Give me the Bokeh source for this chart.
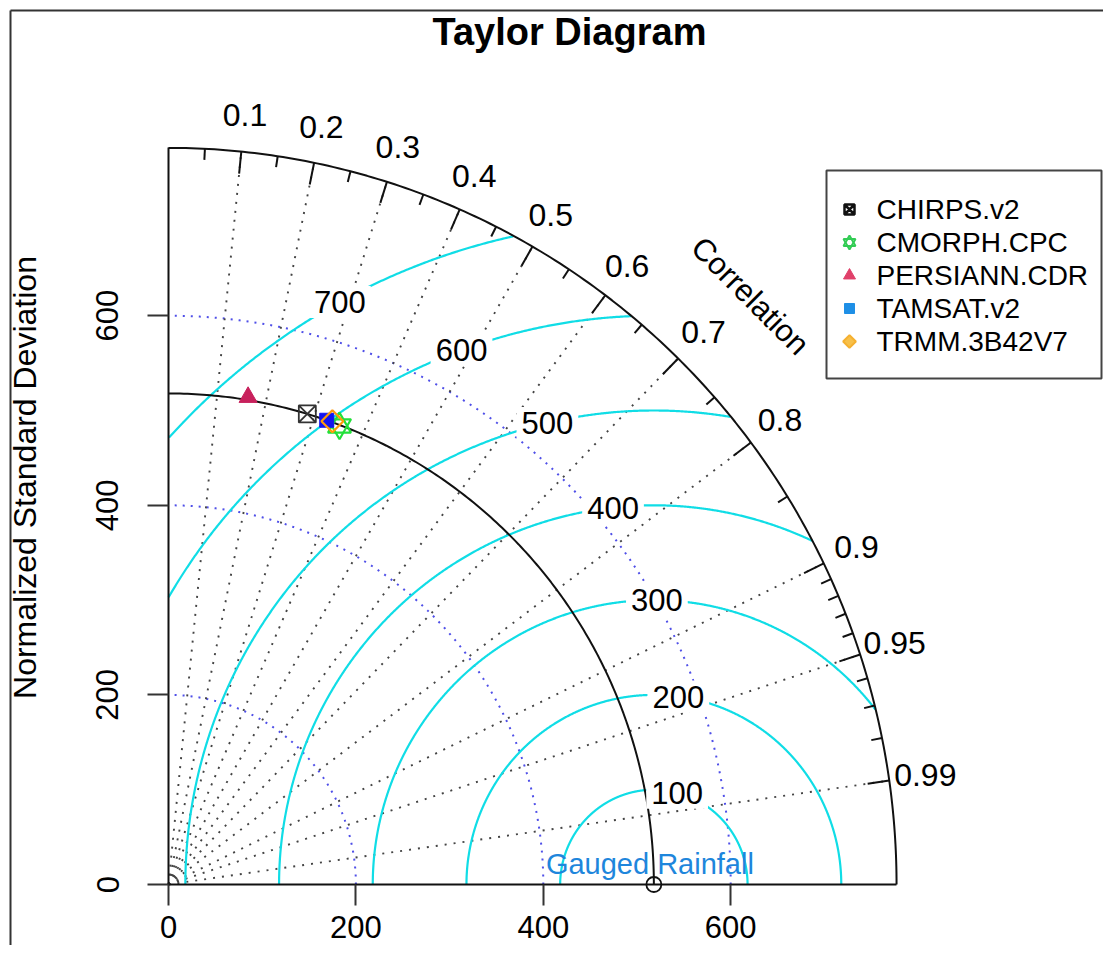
import numpy as np
from bokeh.plotting import figure
from bokeh.models import Range1d, FixedTicker
from bokeh.core.properties import value
from bokeh.embed import file_html
from bokeh.resources import INLINE

# ---------------- data ----------------
models = ["CHIRPS.v2", "CMORPH.CPC", "PERSIANN.CDR", "TAMSAT.v2", "TRMM.3B42V7"]
model_sd = [518, 517, 521, 518, 519]
model_cor = [0.286, 0.353, 0.163, 0.326, 0.337]
ref_label = "Gauged Rainfall"
ref_sd = 518
rms_levels = [100, 200, 300, 400, 500, 600, 700]
sd_ticks = [0, 200, 400, 600]
cor_major = [0.1, 0.2, 0.3, 0.4, 0.5, 0.6, 0.7, 0.8, 0.9, 0.95, 0.99]
cor_minor = [0.05, 0.15, 0.25, 0.35, 0.45, 0.55, 0.65, 0.75, 0.85,
             0.91, 0.92, 0.93, 0.94, 0.96, 0.97, 0.98]
cor_labels = ["0.1", "0.2", "0.3", "0.4", "0.5", "0.6", "0.7", "0.8", "0.9", "0.95", "0.99"]
title_text = "Taylor Diagram"
ylab_text = "Normalized Standard Deviation"
corr_text = "Correlation"

# ---------------- layout / styles ----------------
FONT = value("Liberation Sans")
W, H = 1103, 945
OX, OY = 168.0, 884.0      # canvas pixel of the data origin
KX, KY = 0.937, 0.948      # pixels per data unit

def X(cx):
    return (cx - OX) / KX

def Y(cy):
    return (OY - cy) / KY

maxsd = 1.5 * ref_sd

p = figure(width=W, height=H, output_backend="svg", toolbar_location=None,
           x_range=Range1d(X(0), X(W)), y_range=Range1d(Y(H), Y(0)),
           min_border=0, title=None)
p.outline_line_color = None
p.background_fill_color = "white"
p.border_fill_color = "white"
p.grid.visible = False

for ax in (p.xaxis, p.yaxis):
    ax.fixed_location = 0
    ax.bounds = (0, maxsd)
    ax.ticker = FixedTicker(ticks=sd_ticks)
    ax.minor_tick_line_color = None
    ax.major_tick_in = 0
    ax.major_tick_out = 21
    ax.major_tick_line_width = 2
    ax.major_tick_line_color = "#333333"
    ax.axis_line_width = 2
    ax.axis_line_color = "#111111"
    ax.major_label_text_font = "Liberation Sans"
    ax.major_label_text_font_size = "31px"
    ax.major_label_text_color = "black"
p.xaxis.major_label_standoff = 10
p.yaxis.major_label_standoff = 29
p.yaxis.major_label_orientation = "vertical"

# page border (top and left)
p.line(x=[X(10), X(W)], y=[Y(10), Y(10)], line_color="#333333", line_width=2)
p.line(x=[X(10), X(10)], y=[Y(10), Y(H)], line_color="#333333", line_width=2)

# sd arcs (blue dotted)
q = np.linspace(0, np.pi / 2, 200)
for s in sd_ticks[1:]:
    p.line(x=s * np.cos(q), y=s * np.sin(q), line_color="#4f4fe8",
           line_width=2, line_dash="2 6")

# correlation radials (dotted)
cm = np.array(cor_major)
p.multi_line(xs=[[0, maxsd * c] for c in cm],
             ys=[[0, maxsd * np.sqrt(1 - c * c)] for c in cm],
             line_color="#444444", line_width=1.9, line_dash="2 7")

# RMS contours
th = np.linspace(0, np.pi, 1200)
cxs, cys = [], []
for g in rms_levels:
    xc = ref_sd + g * np.cos(th)
    yc = g * np.sin(th)
    m = (xc >= 0) & (xc * xc + yc * yc <= maxsd * maxsd)
    cxs.append(list(xc[m]))
    cys.append(list(yc[m]))
p.multi_line(xs=cxs, ys=cys, line_color="#10dde6", line_width=2.2)

# outer arc and reference arc
p.line(x=maxsd * np.cos(q), y=maxsd * np.sin(q), line_color="#111111", line_width=2)
p.line(x=ref_sd * np.cos(q), y=ref_sd * np.sin(q), line_color="#111111", line_width=2)

# ticks on outer arc
def tick_segs(vals, frac):
    xs, ys = [], []
    for c in vals:
        s = np.sqrt(1 - c * c)
        xs.append([maxsd * c, frac * maxsd * c])
        ys.append([maxsd * s, frac * maxsd * s])
    return xs, ys

txs, tys = tick_segs(cor_major, 0.97)
p.multi_line(xs=txs, ys=tys, line_color="#111111", line_width=2)
txs, tys = tick_segs(cor_minor, 0.985)
p.multi_line(xs=txs, ys=tys, line_color="#111111", line_width=2)

# correlation labels
p.text(x=[1.05 * maxsd * c for c in cm], y=[1.05 * maxsd * np.sqrt(1 - c * c) for c in cm],
       text=cor_labels, text_font=FONT, text_font_size="32px", text_color="black",
       text_align="center", text_baseline="middle")

# "Correlation"
p.text(x=[1.13 * maxsd * np.cos(np.pi / 4)], y=[1.13 * maxsd * np.sin(np.pi / 4)],
       text=[corr_text], angle=-np.pi / 4, text_font=FONT, text_font_size="31px",
       text_color="black", text_align="center", text_baseline="middle")

# RMS labels (plotrix label positions)
lp = np.floor(np.linspace(45, 70, len(rms_levels)))
la = 0.03 * (lp - 1)
p.text(x=[ref_sd + g * np.cos(a) for g, a in zip(rms_levels, la)],
       y=[g * np.sin(a) for g, a in zip(rms_levels, la)],
       text=[str(g) for g in rms_levels], text_font=FONT, text_font_size="31px",
       text_color="black", text_align="center", text_baseline="middle",
       background_fill_color="white", padding=5)

# reference point
p.scatter(x=[ref_sd], y=[0], marker="circle", size=15, fill_color=None,
          line_color="#111111", line_width=1.8)
p.text(x=[ref_sd], y=[0], text=[ref_label], x_offset=-4, y_offset=-21,
       text_font=FONT, text_font_size="29px", text_color="#1e86dc",
       text_align="center", text_baseline="middle")

# model points
mx = [s * c for s, c in zip(model_sd, model_cor)]
my = [s * np.sqrt(1 - c * c) for s, c in zip(model_sd, model_cor)]

plot_style = [
    [dict(marker="square_x", size=17, fill_color=None, line_color="#333333", line_width=1.8)],
    [dict(marker="triangle", size=23, fill_color=None, line_color="#22e03a", line_width=2.2),
     dict(marker="inverted_triangle", size=23, fill_color=None, line_color="#22e03a", line_width=2.2)],
    [dict(marker="triangle", size=18, fill_color="#c8215c", line_color="#c8215c", line_width=1)],
    [dict(marker="square", size=14, fill_color="#1414f0", line_color="#1414f0", line_width=1)],
    [dict(marker="square", angle=np.pi / 4, size=15.5, fill_color=None, line_color="#ff9a0a", line_width=2.2)],
]
legend_style = [
    [dict(marker="square_x", size=10, fill_color=None, line_color="#111111", line_width=2.5)],
    [dict(marker="triangle", size=12, fill_color=None, line_color="#33cc55", line_width=2),
     dict(marker="inverted_triangle", size=12, fill_color=None, line_color="#33cc55", line_width=2)],
    [dict(marker="triangle", size=12, fill_color="#e0406a", line_color="#e0406a", line_width=1)],
    [dict(marker="square", size=10, fill_color="#1e8fe6", line_color="#1e8fe6", line_width=1)],
    [dict(marker="square", angle=np.pi / 4, size=9, fill_color="#f7c04a", line_color="#f5b030", line_width=2)],
]
for i in range(len(models)):
    for st in plot_style[i]:
        p.scatter(x=[mx[i]], y=[my[i]], **st)

# legend (drawn box)
LB_L, LB_R, LB_T, LB_B = 826, 1101, 170, 378
p.quad(left=[X(LB_L)], right=[X(LB_R)], top=[Y(LB_T)], bottom=[Y(LB_B)],
       fill_color="white", line_color="#444444", line_width=2)
row_y = [Y(209 + 33 * i) for i in range(len(models))]
for i in range(len(models)):
    for st in legend_style[i]:
        p.scatter(x=[X(849)], y=[row_y[i]], **st)
p.text(x=[X(876)] * len(models), y=row_y, text=models, text_font=FONT,
       text_font_size="28px", text_color="black", text_align="left",
       text_baseline="middle")

# title and y label
p.text(x=[X(569)], y=[Y(31)], text=[title_text], text_font=FONT, text_font_size="38px",
       text_font_style="bold", text_color="black", text_align="center",
       text_baseline="middle")
p.text(x=[X(24)], y=[Y(477)], text=[ylab_text], angle=np.pi / 2, text_font=FONT,
       text_font_size="32px", text_color="black", text_align="center",
       text_baseline="middle")

open("out.html", "w").write(file_html(p, INLINE))
